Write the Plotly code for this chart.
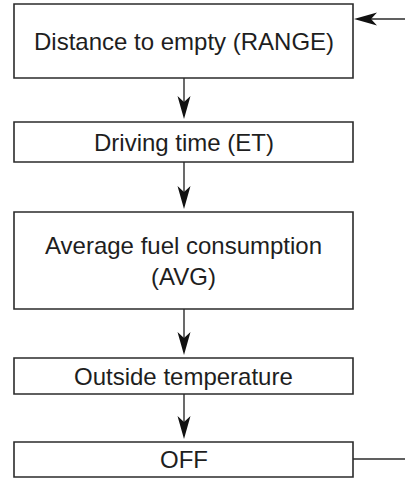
import plotly.graph_objects as go

# flow steps, top to bottom
steps = [
    "Distance to empty (RANGE)",
    "Driving time (ET)",
    "Average fuel consumption<br>(AVG)",
    "Outside temperature",
    "OFF",
]

# layout in pixel units (page is 405 x 478)
W, H = 405, 478
box_left, box_right = 14, 353
box_top = [4, 122, 212, 358, 442]
box_bot = [78, 162, 309, 394, 477]
mid_x = 184
loop_x = 405
LINE = "#2b2b2b"

fig = go.Figure()
fig.add_trace(go.Scatter(x=[0, W], y=[0, H], mode="markers",
                         marker=dict(opacity=0), hoverinfo="skip", showlegend=False))

shapes = []
annos = []
for i, label in enumerate(steps):
    shapes.append(dict(type="rect", x0=box_left, x1=box_right, y0=box_top[i], y1=box_bot[i],
                       line=dict(color=LINE, width=1.6), fillcolor="white", layer="below"))
    annos.append(dict(x=(box_left + box_right) / 2, y=(box_top[i] + box_bot[i]) / 2,
                      text=label, showarrow=False, xref="x", yref="y",
                      font=dict(family="Liberation Sans, Arial", size=24, color="#1e1e1e")))

# down arrows between boxes
for i in range(len(steps) - 1):
    tip = box_top[i + 1] - 3
    shapes.append(dict(type="line", x0=mid_x, x1=mid_x, y0=box_bot[i], y1=tip - 12,
                       line=dict(color=LINE, width=1.4)))
    path = (f"M {mid_x},{tip} L {mid_x - 6.5},{tip - 23} L {mid_x},{tip - 17} "
            f"L {mid_x + 6.5},{tip - 23} Z")
    shapes.append(dict(type="path", path=path, fillcolor="#111", line=dict(width=0)))

# loop back: OFF -> right edge, right edge -> first box
y_in = 19
y_out = (box_top[-1] + box_bot[-1]) / 2 - 0.5
shapes.append(dict(type="line", x0=box_right, x1=loop_x, y0=y_out, y1=y_out,
                   line=dict(color=LINE, width=1.4)))
shapes.append(dict(type="line", x0=box_right + 18, x1=loop_x, y0=y_in, y1=y_in,
                   line=dict(color=LINE, width=1.4)))
tip = box_right + 1
path = (f"M {tip},{y_in} L {tip + 23},{y_in - 6.5} L {tip + 17},{y_in} "
        f"L {tip + 23},{y_in + 6.5} Z")
shapes.append(dict(type="path", path=path, fillcolor="#111", line=dict(width=0)))

fig.update_layout(
    width=W, height=H,
    margin=dict(l=0, r=0, t=0, b=0),
    paper_bgcolor="white", plot_bgcolor="white",
    xaxis=dict(range=[0, W], visible=False, fixedrange=True),
    yaxis=dict(range=[H, 0], visible=False, fixedrange=True),
    shapes=shapes, annotations=annos, showlegend=False,
)
fig.write_html("out.html", config={"displayModeBar": False},
               post_script="document.body.style.margin='0';")
